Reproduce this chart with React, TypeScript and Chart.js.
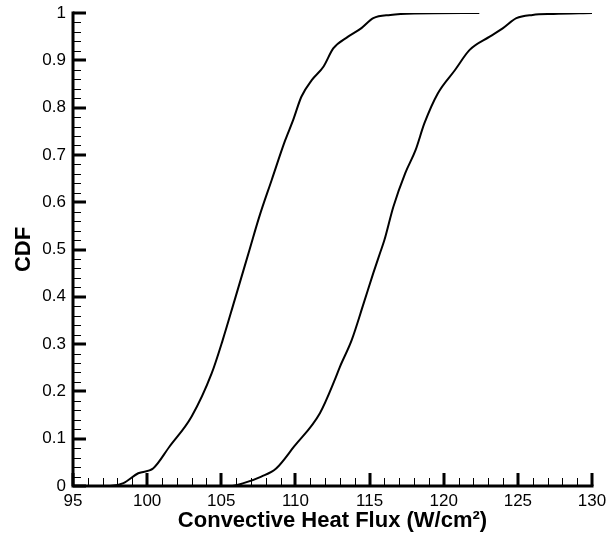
import { useEffect, useRef } from "react";
import { Chart, registerables } from "chart.js";

Chart.register(...registerables);

// Lower-flux distribution: heat flux (W/cm²) and cumulative probability
const fluxLow = [
  97.0, 97.5, 98.4, 99.4, 100.4, 101.5, 103.0, 104.35, 105.1, 105.9, 106.9,
  107.56, 108.4, 109.3, 109.85, 110.4, 111.1, 111.9, 112.55, 113.55, 114.45,
  115.25, 116.4, 118.0, 122.4,
];
const cdfLow = [
  0, 0, 0.006, 0.027, 0.037, 0.083, 0.147, 0.238, 0.309, 0.393, 0.499,
  0.569, 0.647, 0.73, 0.774, 0.823, 0.858, 0.887, 0.925, 0.95, 0.968,
  0.989, 0.996, 0.999, 1.0,
];

// Higher-flux distribution
const fluxHigh = [
  105.0, 105.6, 106.5, 107.7, 108.7, 109.9, 111.65, 112.7, 113.0, 113.8,
  114.6, 115.25, 115.7, 116.0, 116.6, 117.4, 118.1, 118.7, 119.6, 120.75,
  121.75, 123.1, 124.0, 124.9, 126.0, 127.4, 130.0,
];
const cdfHigh = [
  0, 0, 0.006, 0.02, 0.037, 0.083, 0.154, 0.228, 0.252, 0.309,
  0.386, 0.45, 0.492, 0.52, 0.59, 0.661, 0.71, 0.767, 0.83, 0.879,
  0.922, 0.95, 0.968, 0.989, 0.996, 0.998, 1.0,
];

const xTickValues = [95, 100, 105, 110, 115, 120, 125, 130];
const yTickValues = [0, 0.1, 0.2, 0.3, 0.4, 0.5, 0.6, 0.7, 0.8, 0.9, 1];
const xMinorPerMajor = 5;
const yMinorPerMajor = 5;

const FONT = "'Liberation Sans', Arial, Helvetica, sans-serif";

const toPoints = (xs: number[], ys: number[]) =>
  xs.map((x, i) => ({ x, y: ys[i] }));

// Draws the left/bottom axis lines with inward-pointing major and minor ticks
const axisFrame = {
  id: "axisFrame",
  afterDraw(chart: any) {
    const { ctx, chartArea } = chart;
    const { left, right, top, bottom } = chartArea;
    const xs = chart.scales.x;
    const ys = chart.scales.y;
    ctx.save();
    ctx.strokeStyle = "#000";

    // minor ticks
    ctx.lineWidth = 1;
    ctx.beginPath();
    for (let i = 0; i < xTickValues.length - 1; i++) {
      const a = xTickValues[i];
      const b = xTickValues[i + 1];
      for (let k = 1; k < xMinorPerMajor; k++) {
        const px = Math.round(xs.getPixelForValue(a + ((b - a) * k) / xMinorPerMajor)) + 0.5;
        ctx.moveTo(px, bottom);
        ctx.lineTo(px, bottom - 8);
      }
    }
    for (let i = 0; i < yTickValues.length - 1; i++) {
      const a = yTickValues[i];
      const b = yTickValues[i + 1];
      for (let k = 1; k < yMinorPerMajor; k++) {
        const py = Math.round(ys.getPixelForValue(a + ((b - a) * k) / yMinorPerMajor)) + 0.5;
        ctx.moveTo(left, py);
        ctx.lineTo(left + 8, py);
      }
    }
    ctx.stroke();

    // major ticks
    ctx.lineWidth = 3;
    ctx.beginPath();
    xTickValues.forEach((v) => {
      const px = Math.round(xs.getPixelForValue(v));
      ctx.moveTo(px, bottom);
      ctx.lineTo(px, bottom - 13);
    });
    yTickValues.forEach((v) => {
      const py = Math.round(ys.getPixelForValue(v));
      ctx.moveTo(left, py);
      ctx.lineTo(left + 13, py);
    });
    ctx.stroke();

    // axis lines
    ctx.lineWidth = 3;
    ctx.lineCap = "square";
    ctx.beginPath();
    ctx.moveTo(left, top);
    ctx.lineTo(left, bottom);
    ctx.lineTo(right, bottom);
    ctx.stroke();
    ctx.restore();
  },
};

export default function App() {
  const canvasRef = useRef<HTMLCanvasElement | null>(null);

  useEffect(() => {
    const canvas = canvasRef.current;
    if (!canvas) return;
    const lineStyle = {
      borderColor: "#000",
      borderWidth: 2,
      pointRadius: 0,
      fill: false,
      cubicInterpolationMode: "monotone" as const,
    };
    const chart = new Chart(canvas, {
      type: "line",
      data: {
        datasets: [
          { label: "low", data: toPoints(fluxLow, cdfLow), ...lineStyle },
          { label: "high", data: toPoints(fluxHigh, cdfHigh), ...lineStyle },
        ],
      },
      options: {
        animation: false,
        responsive: false,
        events: [],
        layout: { padding: { top: 13, right: 15, bottom: 0, left: 0 } },
        plugins: { legend: { display: false }, tooltip: { enabled: false } },
        scales: {
          x: {
            type: "linear",
            min: 95,
            max: 130,
            afterBuildTicks: (scale: any) => {
              scale.ticks = xTickValues.map((value) => ({ value }));
            },
            afterFit: (scale: any) => {
              scale.height = 47;
              scale.paddingLeft = 0;
              scale.paddingRight = 0;
            },
            grid: { display: false, drawTicks: false },
            border: { display: false },
            ticks: {
              color: "#000",
              padding: 5,
              maxRotation: 0,
              autoSkip: false,
              font: { family: FONT, size: 17 },
              callback: (v: any) => String(v),
            },
            title: {
              display: true,
              text: "Convective Heat Flux (W/cm²)",
              color: "#000",
              padding: { top: 0, bottom: 1 },
              font: { family: FONT, size: 22, weight: "bold", lineHeight: 1 },
            },
          },
          y: {
            type: "linear",
            min: 0,
            max: 1,
            afterBuildTicks: (scale: any) => {
              scale.ticks = yTickValues.map((value) => ({ value }));
            },
            afterFit: (scale: any) => {
              scale.width = 73;
              scale.paddingTop = 0;
              scale.paddingBottom = 0;
            },
            grid: { display: false, drawTicks: false },
            border: { display: false },
            ticks: {
              color: "#000",
              padding: 7,
              autoSkip: false,
              font: { family: FONT, size: 17 },
              callback: (v: any) => String(v),
            },
            title: {
              display: true,
              text: "CDF",
              color: "#000",
              padding: { top: 13, bottom: 0 },
              font: { family: FONT, size: 22, weight: "bold", lineHeight: 1 },
            },
          },
        },
      },
      plugins: [axisFrame],
    });
    return () => chart.destroy();
  }, []);

  return (
    <div
      style={{
        position: "absolute",
        left: 0,
        top: 0,
        width: 607,
        height: 533,
        background: "#fff",
      }}
    >
      <canvas ref={canvasRef} width={607} height={533} style={{ display: "block" }} />
    </div>
  );
}
